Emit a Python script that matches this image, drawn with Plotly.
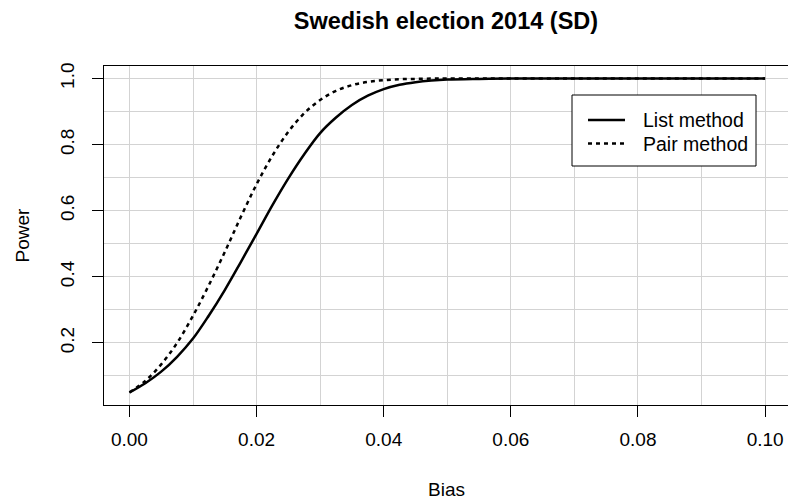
import plotly.graph_objects as go

# Data
bias = [0.0, 0.0025, 0.005, 0.0075, 0.01, 0.0125, 0.015, 0.0175, 0.02, 0.0225,
        0.025, 0.0275, 0.03, 0.0325, 0.035, 0.0375, 0.04, 0.0425, 0.045, 0.0475,
        0.05, 0.055, 0.06, 0.07, 0.08, 0.09, 0.10]
power_list = [0.05, 0.078, 0.113, 0.158, 0.213, 0.283, 0.36, 0.444, 0.53, 0.617,
              0.698, 0.771, 0.835, 0.882, 0.92, 0.948, 0.968, 0.981, 0.989, 0.994,
              0.997, 0.999, 1.0, 1.0, 1.0, 1.0, 1.0]
power_pair = [0.05, 0.085, 0.135, 0.2, 0.282, 0.375, 0.475, 0.58, 0.68, 0.767,
              0.839, 0.895, 0.935, 0.963, 0.98, 0.99, 0.995, 0.998, 0.999, 1.0,
              1.0, 1.0, 1.0, 1.0, 1.0, 1.0, 1.0]
series_names = ["List method", "Pair method"]

x_ticks = [0.0, 0.02, 0.04, 0.06, 0.08, 0.10]
x_tick_labels = ["0.00", "0.02", "0.04", "0.06", "0.08", "0.10"]
y_ticks = [0.2, 0.4, 0.6, 0.8, 1.0]
y_tick_labels = ["0.2", "0.4", "0.6", "0.8", "1.0"]

FONT = "Liberation Sans, Arial, Helvetica, sans-serif"
DASH = "4px,4px"

# plot-area geometry in pixels (for placing the boxed legend)
L, R_, T, B = 104, 788, 66, 405
def px(x):
    return (x - L) / (R_ - L)
def py(y):
    return (B - y) / (B - T)

fig = go.Figure()
fig.add_trace(go.Scatter(x=bias, y=power_list, mode="lines", name=series_names[0],
                         line=dict(color="black", width=2.5, shape="spline", smoothing=1.0)))
fig.add_trace(go.Scatter(x=bias, y=power_pair, mode="lines", name=series_names[1],
                         line=dict(color="black", width=2.5, dash=DASH,
                                   shape="spline", smoothing=1.0)))

# boxed legend (R style)
shapes = [
    dict(type="rect", xref="paper", yref="paper", x0=px(572), x1=px(756), y0=py(166), y1=py(95),
         line=dict(color="black", width=1), fillcolor="white", layer="above"),
    dict(type="line", xref="paper", yref="paper", x0=px(588), x1=px(625), y0=py(120), y1=py(120),
         line=dict(color="black", width=2.5), layer="above"),
    dict(type="line", xref="paper", yref="paper", x0=px(588), x1=px(625), y0=py(143.5), y1=py(143.5),
         line=dict(color="black", width=2.5, dash=DASH), layer="above"),
]
legend_texts = [
    dict(text=series_names[0], xref="paper", yref="paper", x=px(641), y=py(120),
         xanchor="left", yanchor="middle", showarrow=False,
         font=dict(family=FONT, size=19.5, color="black")),
    dict(text=series_names[1], xref="paper", yref="paper", x=px(641), y=py(143.5),
         xanchor="left", yanchor="middle", showarrow=False,
         font=dict(family=FONT, size=19.5, color="black")),
]

fig.update_layout(
    width=788, height=503,
    margin=dict(l=L, r=0, t=T, b=503 - B),
    paper_bgcolor="white", plot_bgcolor="white",
    font=dict(family=FONT, color="black", size=18),
    title=dict(text="<b>Swedish election 2014 (SD)</b>", x=0.5, xref="paper",
               y=1 - 21 / 503, yref="container", yanchor="middle", xanchor="center",
               font=dict(family=FONT, size=23.5, color="black")),
    showlegend=False,
    xaxis=dict(range=[-0.004, 0.1036], tickvals=x_ticks, ticktext=x_tick_labels,
               ticks="outside", ticklen=11, tickwidth=1, tickcolor="black",
               showline=True, linecolor="black", linewidth=1, mirror=True,
               showgrid=True, gridcolor="#d3d3d3", gridwidth=1.3,
               minor=dict(dtick=0.01, tick0=0, showgrid=True, gridcolor="#d3d3d3", gridwidth=1.3),
               zeroline=False, tickfont=dict(size=19), ticklabelstandoff=6),
    yaxis=dict(range=[0.012, 1.038], tickvals=y_ticks, ticktext=y_tick_labels,
               ticks="outside", ticklen=11, tickwidth=1, tickcolor="black",
               showline=True, linecolor="black", linewidth=1, mirror=False,
               showgrid=True, gridcolor="#d3d3d3", gridwidth=1.3,
               minor=dict(dtick=0.1, tick0=0, showgrid=True, gridcolor="#d3d3d3", gridwidth=1.3),
               zeroline=False, tickangle=-90, tickfont=dict(size=19), ticklabelstandoff=10),
    shapes=shapes,
    annotations=[
        dict(text="Bias", xref="paper", yref="paper", x=0.5, y=py(489),
             xanchor="center", yanchor="middle", showarrow=False,
             font=dict(family=FONT, size=19, color="black")),
        dict(text="Power", xref="paper", yref="paper", x=px(22),
             y=0.5, xanchor="center", yanchor="middle", textangle=-90, showarrow=False,
             font=dict(family=FONT, size=19, color="black")),
    ] + legend_texts,
)

fig.write_html("out.html", config={"displayModeBar": False},
               post_script="document.body.style.margin='0';")
